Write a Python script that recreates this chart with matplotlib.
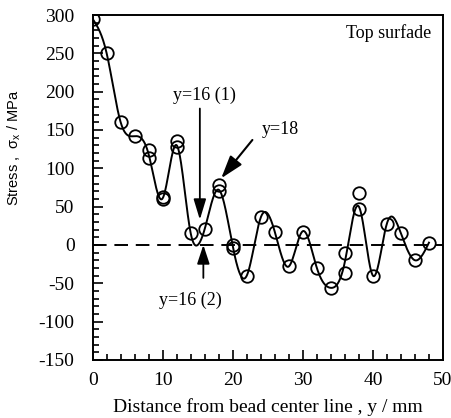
import numpy as np
import matplotlib
matplotlib.use('Agg')
import matplotlib.pyplot as plt
from matplotlib.ticker import MultipleLocator

plt.rcParams['axes.unicode_minus'] = False
plt.rcParams['mathtext.fontset'] = 'custom'
plt.rcParams['mathtext.rm'] = 'Liberation Sans'

# Measured stress at each position (double circles = repeated measurements)
meas_y = [0, 2, 4, 6, 8, 8, 10, 10, 12, 12, 14, 16, 18, 18, 20, 20, 22, 24,
          26, 28, 30, 32, 34, 36, 36, 38, 38, 40, 42, 44, 46, 48]
meas_stress = [295, 250, 161, 142, 124, 113, 62, 60, 136, 128, 15, 21, 78, 70,
               0, -4, -40, 36, 17, -28, 17, -30, -56, -10, -37, 68, 47, -40,
               27, 16, -19, 2]

# Knots of the fitted stress profile
curve_y = [0, 2, 4, 6, 8, 10, 12, 14, 15, 16, 18, 20, 22, 24, 26, 28, 30, 32,
           34, 36, 38, 40, 42, 44, 46, 48]
curve_stress = [295, 250, 160, 142, 118, 61, 130, 15, 0, 21, 72, -2, -40, 36,
                17, -28, 18, -30, -56, -22, 50, -40, 28, 15, -20, 3]


def natural_spline(x, y, xs):
    x = np.asarray(x, float)
    y = np.asarray(y, float)
    n = len(x)
    h = np.diff(x)
    A = np.zeros((n, n))
    rhs = np.zeros(n)
    A[0, 0] = A[-1, -1] = 1
    for i in range(1, n - 1):
        A[i, i - 1] = h[i - 1]
        A[i, i] = 2 * (h[i - 1] + h[i])
        A[i, i + 1] = h[i]
        rhs[i] = 6 * ((y[i + 1] - y[i]) / h[i] - (y[i] - y[i - 1]) / h[i - 1])
    M = np.linalg.solve(A, rhs)
    idx = np.clip(np.searchsorted(x, xs) - 1, 0, n - 2)
    x0, x1 = x[idx], x[idx + 1]
    hh = x1 - x0
    return (M[idx] * (x1 - xs) ** 3 / (6 * hh)
            + M[idx + 1] * (xs - x0) ** 3 / (6 * hh)
            + (y[idx] / hh - M[idx] * hh / 6) * (x1 - xs)
            + (y[idx + 1] / hh - M[idx + 1] * hh / 6) * (xs - x0))


serif = 'Liberation Serif'
fig = plt.figure(figsize=(4.52, 4.18), dpi=100)
ax = fig.add_axes([0.205, 0.139, 0.775, 0.825])

xs = np.linspace(curve_y[0], curve_y[-1], 800)
ax.plot(xs, natural_spline(curve_y, curve_stress, xs), color='black', lw=1.4)
ax.plot(meas_y, meas_stress, 'o', ms=9, mfc='none', mec='black', mew=1.3)
ax.axhline(0, color='black', lw=1.4, dashes=(7, 4))

ax.set_xlim(0, 50)
ax.set_ylim(-150, 300)
ax.xaxis.set_major_locator(MultipleLocator(10))
ax.xaxis.set_minor_locator(MultipleLocator(2))
ax.yaxis.set_major_locator(MultipleLocator(50))
ax.yaxis.set_minor_locator(MultipleLocator(10))
ax.tick_params(which='both', direction='in', top=False, right=False,
               width=1.2, labelsize=14)
ax.tick_params(axis='x', pad=9)
ax.tick_params(axis='y', pad=13)
ax.tick_params(which='major', length=7)
ax.tick_params(which='minor', length=4)
for lab in ax.get_xticklabels() + ax.get_yticklabels():
    lab.set_fontfamily(serif)
for sp in ax.spines.values():
    sp.set_linewidth(1.4)

ax.set_xlabel('Distance from bead center line , y / mm', fontfamily=serif,
              fontsize=14, labelpad=6)
ax.set_ylabel(r'Stress ,  $\mathrm{\sigma_x}$ / MPa',
              fontfamily='Liberation Sans', fontsize=10.5)
ax.yaxis.set_label_coords(-0.20, 0.614)

ax.text(48.3, 277, 'Top surfade', ha='right', va='center', fontsize=13,
        fontfamily=serif)

ax.annotate('', xy=(15.3, 33), xytext=(15.3, 178),
            arrowprops=dict(arrowstyle='-|>,head_length=1.25,head_width=0.38',
                            mutation_scale=10, color='black', lw=1.3,
                            shrinkA=0, shrinkB=0))
ax.text(15.9, 195, 'y=16 (1)', ha='center', va='center', fontsize=13,
        fontfamily=serif)

ax.annotate('', xy=(15.8, 0), xytext=(15.8, -43),
            arrowprops=dict(arrowstyle='-|>,head_length=1.15,head_width=0.38',
                            mutation_scale=10, color='black', lw=1.3,
                            shrinkA=0, shrinkB=0))
ax.text(14.0, -72, 'y=16 (2)', ha='center', va='center', fontsize=13,
        fontfamily=serif)

ax.annotate('', xy=(18.35, 87), xytext=(22.8, 137),
            arrowprops=dict(arrowstyle='-|>,head_length=1.4,head_width=0.45',
                            mutation_scale=10, color='black', lw=1.5,
                            shrinkA=0, shrinkB=0))
ax.text(24.2, 150, 'y=18', ha='left', va='center', fontsize=13,
        fontfamily=serif)

fig.savefig('out.png', dpi=100)
